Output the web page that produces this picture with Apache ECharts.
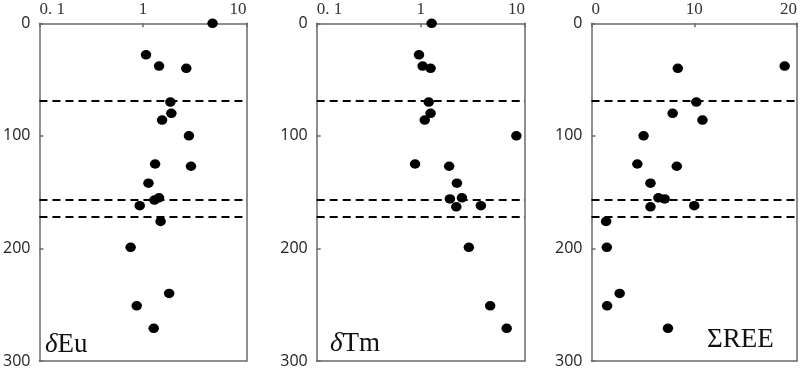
<!DOCTYPE html>
<html><head><meta charset="utf-8">
<script src="https://cdn.jsdelivr.net/npm/echarts@6/dist/echarts.min.js"></script>
<style>html,body{margin:0;padding:0;background:#fff}#c{width:800px;height:369px}</style>
</head><body><div id="c"></div>
<script>
// Depth (y) values and measured values for each panel
const euDepth = [0, 28, 38, 40, 70, 80, 86, 100, 125, 127, 142, 155, 157, 162, 176, 199, 240, 251, 271];
const euValue = [4.7, 1.07, 1.43, 2.62, 1.84, 1.88, 1.53, 2.78, 1.31, 2.91, 1.13, 1.43, 1.29, 0.93, 1.48, 0.76, 1.79, 0.87, 1.27];

const tmDepth = [0, 28, 38, 40, 70, 80, 86, 100, 125, 127, 142, 155, 156, 162, 163, 199, 251, 271];
const tmValue = [1.27, 0.96, 1.04, 1.24, 1.19, 1.24, 1.09, 8.26, 0.88, 1.87, 2.22, 2.48, 1.90, 3.77, 2.19, 2.89, 4.63, 6.67];

const reeDepth = [38, 40, 70, 80, 86, 100, 125, 127, 142, 155, 156, 162, 163, 176, 199, 240, 251, 271];
const reeValue = [18.8, 8.4, 10.2, 7.9, 10.8, 5.07, 4.46, 8.3, 5.74, 6.51, 7.12, 10.0, 5.74, 1.42, 1.49, 2.74, 1.52, 7.44];

const dashedDepths = [69, 157, 172];
const yTicks = [0, 100, 200, 300];
const logTickLabels = {"0.1": "0. 1", "1": "1", "10": "10"};
const linTickLabels = {"0": "0", "10": "10", "20": "20"};
const panelNames = [["δ", "Eu"], ["δ", "Tm"], ["Σ", "REE"]];

const chart = echarts.init(document.getElementById('c'), null, {renderer: 'canvas'});
const gridsPos = [
  {left: 38.5, top: 23.3, width: 208, height: 339.4},
  {left: 316.7, top: 23.3, width: 208.3, height: 339.4},
  {left: 591.5, top: 23.3, width: 207.5, height: 339.4}
];
const axisGray = '#6a6a6a';
const serif = 'Liberation Serif';
const grids = gridsPos.map(g => Object.assign({containLabel: false}, g));

function fmtLog(v) {
  const k = String(Math.round(v * 10) / 10);
  return logTickLabels[k] !== undefined ? logTickLabels[k] : '';
}
function fmtLin(v) {
  const k = String(Math.round(v));
  return linTickLabels[k] !== undefined ? linTickLabels[k] : '';
}
const lineStyleAx = {color: axisGray, width: 1.5};
const xAxes = [];
const yAxes = [];
[0, 1, 2].forEach(i => {
  const isLog = i < 2;
  const base = {
    gridIndex: i,
    type: isLog ? 'log' : 'value', logBase: 10,
    min: isLog ? 0.1 : 0, max: isLog ? 10 : 20,
    interval: isLog ? undefined : 10,
    splitLine: {show: false}
  };
  xAxes.push(Object.assign({}, base, {
    position: 'top',
    axisLine: {show: true, onZero: false, lineStyle: lineStyleAx},
    axisTick: {show: true, inside: true, length: 4, lineStyle: lineStyleAx},
    axisLabel: {formatter: isLog ? fmtLog : fmtLin, fontFamily: serif, fontSize: 17, color: '#333', margin: 5,
      alignMinLabel: 'left', alignMaxLabel: 'right', showMinLabel: true, showMaxLabel: true}
  }));
  xAxes.push(Object.assign({}, base, {
    position: 'bottom',
    axisLine: {show: true, onZero: false, lineStyle: lineStyleAx},
    axisTick: {show: false}, axisLabel: {show: false}
  }));
  const ybase = {gridIndex: i, type: 'value', inverse: true, min: yTicks[0], max: yTicks[yTicks.length - 1], interval: 100, splitLine: {show: false}};
  yAxes.push(Object.assign({}, ybase, {
    position: 'left',
    axisLine: {show: true, onZero: false, lineStyle: lineStyleAx},
    axisTick: {show: true, inside: true, length: 4, lineStyle: lineStyleAx},
    axisLabel: {fontFamily: 'Open Sans', fontSize: 16, color: '#222', margin: 9, showMinLabel: true, showMaxLabel: true}
  }));
  yAxes.push(Object.assign({}, ybase, {
    position: 'right',
    axisLine: {show: true, onZero: false, lineStyle: lineStyleAx},
    axisTick: {show: false}, axisLabel: {show: false}
  }));
});

const valuesSets = [[euValue, euDepth], [tmValue, tmDepth], [reeValue, reeDepth]];
const series = valuesSets.map(([vals, deps], i) => ({
  type: 'scatter', xAxisIndex: i * 2, yAxisIndex: i * 2,
  symbol: 'circle', symbolSize: [10.5, 9.5],
  itemStyle: {color: '#000', opacity: 1},
  data: vals.map((v, j) => [v, deps[j]]),
  markLine: {
    silent: true, symbol: ['none', 'none'], label: {show: false},
    lineStyle: {color: '#000', type: [8, 5], width: 2, opacity: 1},
    data: dashedDepths.map(d => ({yAxis: d}))
  },
  z: 3
}));

const labelPos = [{x: 45, y: 346}, {x: 330, y: 345}, {x: 707, y: 341}];
const graphic = panelNames.map((n, i) => ({
  type: 'text', left: labelPos[i].x, top: labelPos[i].y - 15,
  style: {
    text: '{a|' + n[0] + '}{b|' + n[1] + '}',
    rich: {
      a: {fontFamily: serif, fontSize: 27, fontStyle: i < 2 ? 'italic' : 'normal', fill: '#111'},
      b: {fontFamily: serif, fontSize: 27, fill: '#111'}
    }
  },
  z: 10
}));

chart.setOption({
  animation: false,
  grid: grids, xAxis: xAxes, yAxis: yAxes, series: series, graphic: graphic
});
</script></body></html>
